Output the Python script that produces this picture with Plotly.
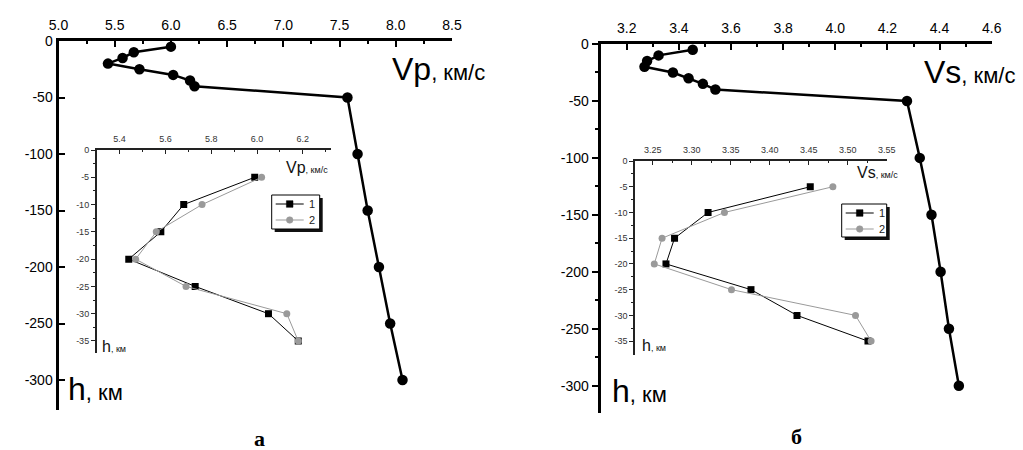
import plotly.graph_objects as go

# ---------------- data ----------------
depth_main = [-5, -10, -15, -20, -25, -30, -35, -40, -50, -100, -150, -200, -250, -300]
vp_main = [6.00, 5.67, 5.57, 5.44, 5.72, 6.02, 6.17, 6.21, 7.57, 7.66, 7.75, 7.85, 7.95, 8.06]
vs_main = [3.453, 3.322, 3.278, 3.268, 3.377, 3.437, 3.492, 3.54, 4.275, 4.324, 4.369, 4.404, 4.436, 4.474]

depth_inset = [-5, -10, -15, -20, -25, -30, -35]
vp_1 = [5.99, 5.68, 5.58, 5.44, 5.73, 6.05, 6.18]
vp_2 = [6.02, 5.76, 5.56, 5.47, 5.69, 6.13, 6.18]
vs_1 = [3.452, 3.321, 3.278, 3.267, 3.376, 3.435, 3.526]
vs_2 = [3.481, 3.342, 3.262, 3.252, 3.351, 3.510, 3.530]

main_depth_ticks = [0, -50, -100, -150, -200, -250, -300]
main_depth_labels = ["0", "-50", "-100", "-150", "-200", "-250", "-300"]
inset_depth_ticks = [0, -5, -10, -15, -20, -25, -30, -35]
inset_depth_labels = ["0", "-5", "-10", "-15", "-20", "-25", "-30", "-35"]

series_names = ["1", "2"]

W, H = 1023, 450


def px(x):
    return x / W


def py(y):
    return 1 - y / H


FONT = "Arial, Liberation Sans, sans-serif"
GREY = "#9a9a9a"
series_colors = ["black", GREY]
series_symbols = ["square", "circle"]

fig = go.Figure()

# main curves
fig.add_trace(go.Scatter(x=vp_main, y=depth_main, xaxis="x", yaxis="y", mode="lines+markers",
                         line=dict(color="black", width=2.5),
                         marker=dict(symbol="circle", size=10.5, color="black"), showlegend=False))
fig.add_trace(go.Scatter(x=vs_main, y=depth_main, xaxis="x2", yaxis="y2", mode="lines+markers",
                         line=dict(color="black", width=2.5),
                         marker=dict(symbol="circle", size=10.5, color="black"), showlegend=False))

# insets
for xs, xa, ya in [(vp_1, "x3", "y3"), (vp_2, "x3", "y3"), (vs_1, "x4", "y4"), (vs_2, "x4", "y4")]:
    i = 0 if xs in (vp_1, vs_1) else 1
    fig.add_trace(go.Scatter(x=xs, y=depth_inset, xaxis=xa, yaxis=ya, mode="lines+markers",
                             name=series_names[i], showlegend=False,
                             line=dict(color=series_colors[i], width=1),
                             marker=dict(symbol=series_symbols[i], size=7, color=series_colors[i])))

main_x_common = dict(side="top", showline=True, linecolor="black", linewidth=2.5,
                     ticks="inside", ticklen=6, tickwidth=2, tickcolor="black",
                     showgrid=False, zeroline=False, tickformat=".1f", automargin=False,
                     tickfont=dict(family=FONT, size=14, color="black"), ticklabelstandoff=3)
main_y_common = dict(showline=True, linecolor="black", linewidth=3,
                     tickwidth=2, tickcolor="black", ticklen=6,
                     showgrid=False, zeroline=False, automargin=False,
                     tickvals=main_depth_ticks, ticktext=main_depth_labels,
                     tickfont=dict(family=FONT, size=14, color="black"))
inset_x_common = dict(side="top", showline=True, linecolor="#222", linewidth=1.5,
                      ticks="inside", ticklen=4, tickwidth=1, tickcolor="#222",
                      showgrid=False, zeroline=False, automargin=False,
                      tickfont=dict(family=FONT, size=9, color="#333"), ticklabelstandoff=3)
inset_y_common = dict(showline=True, linecolor="#222", linewidth=1.5,
                      ticks="outside", ticklen=4, tickwidth=1, tickcolor="#222",
                      showgrid=False, zeroline=False, automargin=False,
                      tickvals=inset_depth_ticks, ticktext=inset_depth_labels,
                      minor=dict(tickvals=[-2.5, -7.5, -12.5, -17.5, -22.5, -27.5, -32.5],
                                 ticks="outside", ticklen=2, tickwidth=1, tickcolor="#222"),
                      tickfont=dict(family=FONT, size=9, color="#333"))

fig.update_layout(
    width=W, height=H, margin=dict(l=0, r=0, t=0, b=0, autoexpand=False),
    paper_bgcolor="white", plot_bgcolor="rgba(0,0,0,0)", showlegend=False,
    xaxis=dict(domain=[px(58.5), px(452)], range=[5.0, 8.5], anchor="y",
               tick0=5.0, dtick=0.5,
               minor=dict(dtick=0.25, ticks="inside", ticklen=3, tickwidth=1.5, tickcolor="black"),
               **main_x_common),
    yaxis=dict(domain=[py(410), py(41)], range=[-326.5, 0], anchor="x", ticks="inside",
               **main_y_common),
    xaxis2=dict(domain=[px(600.7), px(991.7)], range=[3.1, 4.6], anchor="y2",
                tick0=3.2, dtick=0.2,
                minor=dict(dtick=0.1, ticks="inside", ticklen=3, tickwidth=1.5, tickcolor="black"),
                **main_x_common),
    yaxis2=dict(domain=[py(413), py(44)], range=[-324, 0], anchor="x2", ticks="outside",
                minor=dict(dtick=25, ticks="outside", ticklen=3, tickwidth=1.5, tickcolor="black"),
                **main_y_common),
    xaxis3=dict(domain=[px(96.7), px(331)], range=[5.3, 6.323], anchor="y3",
                tick0=5.4, dtick=0.2, tickformat=".1f",
                minor=dict(dtick=0.1, ticks="inside", ticklen=2, tickwidth=1, tickcolor="#222"),
                **inset_x_common),
    yaxis3=dict(domain=[py(353), py(150)], range=[-37.2, 0], anchor="x3", **inset_y_common),
    xaxis4=dict(domain=[px(635), px(886.7)], range=[3.2273, 3.55], anchor="y4",
                tick0=3.25, dtick=0.05, tickformat=".2f",
                minor=dict(dtick=0.025, ticks="inside", ticklen=2, tickwidth=1, tickcolor="#222"),
                **inset_x_common),
    yaxis4=dict(domain=[py(355), py(161)], range=[-37.7, 0], anchor="x4", **inset_y_common),
)

ann = []
shapes = []


def label(text, x, y, size, xanchor="left", yanchor="middle", family=FONT, color="black"):
    ann.append(dict(text=text, x=px(x), y=py(y), xref="paper", yref="paper",
                    xanchor=xanchor, yanchor=yanchor, showarrow=False,
                    font=dict(family=family, size=size, color=color)))


label("Vp<span style='font-size:22px'>, км/с</span>", 390, 69, 32)
label("h<span style='font-size:22px'>, км</span>", 66, 389, 32)
label("Vs<span style='font-size:22px'>, км/с</span>", 922, 72, 32)
label("h<span style='font-size:22px'>, км</span>", 610, 391, 32)
label("Vp<span style='font-size:9px'>, км/с</span>", 284, 168, 16, color="#111")
label("h<span style='font-size:9px'>, км</span>", 100, 346, 16, color="#111")
label("Vs<span style='font-size:9px'>, км/с</span>", 855, 172, 16, color="#111")
label("h<span style='font-size:9px'>, км</span>", 640, 345, 16, color="#111")
label("<b>а</b>", 259, 438, 22, xanchor="center",
      family="Liberation Serif, Times New Roman, serif")
label("<b>б</b>", 796, 436, 22, xanchor="center",
      family="Liberation Serif, Times New Roman, serif")


def legend_box(x0, y0, w, h):
    # shadow
    shapes.append(dict(type="rect", xref="paper", yref="paper",
                       x0=px(x0 + 3), x1=px(x0 + w + 3), y0=py(y0 + h + 3), y1=py(y0 + 3),
                       fillcolor="#111", line=dict(width=0)))
    # box
    shapes.append(dict(type="rect", xref="paper", yref="paper",
                       x0=px(x0), x1=px(x0 + w), y0=py(y0 + h), y1=py(y0),
                       fillcolor="white", line=dict(color="black", width=1)))
    for i, name in enumerate(series_names):
        ry = y0 + 9 + 16 * i
        c = series_colors[i]
        shapes.append(dict(type="line", xref="paper", yref="paper",
                           x0=px(x0 + 4), x1=px(x0 + 32), y0=py(ry), y1=py(ry),
                           line=dict(color=c, width=1)))
        cx = x0 + 18
        r = 3.3
        shapes.append(dict(type="rect" if series_symbols[i] == "square" else "circle",
                           xref="paper", yref="paper",
                           x0=px(cx - r), x1=px(cx + r), y0=py(ry + r), y1=py(ry - r),
                           fillcolor=c, line=dict(color=c, width=0.5)))
        label(name, x0 + 35, ry, 11, color="#222")


legend_box(271.7, 195, 48, 34)
legend_box(841.7, 204, 45, 33)

fig.update_layout(annotations=ann, shapes=shapes)

fig.write_html("out.html", config={"displayModeBar": False},
               post_script="document.body.style.margin='0';document.body.style.overflow='hidden';")
